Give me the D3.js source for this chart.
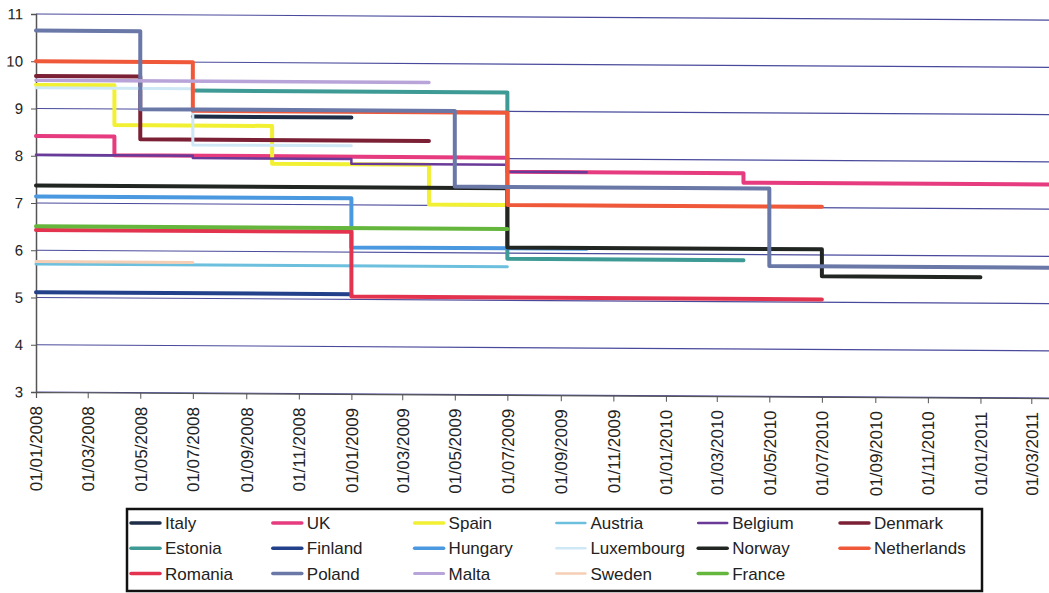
<!DOCTYPE html>
<html>
<head>
<meta charset="utf-8">
<script src="https://cdn.jsdelivr.net/npm/d3@7/dist/d3.min.js"></script>
<style>
  html, body { margin: 0; padding: 0; background: #fff; }
  svg { display: block; font-family: "Liberation Sans", Arial, sans-serif; }
</style>
</head>
<body>
<svg id="chart" width="1049" height="593"></svg>
<script>
// Rate series by country: each series is a step line; a value holds from its date
// until the next date, and the last entry marks where the series stops.
const countries = ["Italy", "UK", "Spain", "Austria", "Belgium", "Denmark",
                   "Estonia", "Finland", "Hungary", "Luxembourg", "Norway", "Netherlands",
                   "Romania", "Poland", "Malta", "Sweden", "France"];

const seriesDates = [
  ["2008-07-01", "2009-01-01"],                                            // Italy
  ["2008-01-01", "2008-04-01", "2009-07-01", "2010-04-01", "2011-04-01"],  // UK
  ["2008-01-01", "2008-04-01", "2008-10-01", "2009-04-01", "2009-07-01"],  // Spain
  ["2008-01-01", "2009-07-01"],                                            // Austria
  ["2008-01-01", "2008-07-01", "2009-01-01", "2009-07-01", "2009-10-01"],  // Belgium
  ["2008-01-01", "2008-05-01", "2009-04-01"],                              // Denmark
  ["2008-07-01", "2009-07-01", "2010-04-01"],                              // Estonia
  ["2008-01-01", "2009-01-01"],                                            // Finland
  ["2008-01-01", "2009-01-01", "2009-10-01"],                              // Hungary
  ["2008-01-01", "2008-07-01", "2009-01-01"],                              // Luxembourg
  ["2008-01-01", "2009-07-01", "2010-07-01", "2011-01-01"],                // Norway
  ["2008-01-01", "2008-07-01", "2009-07-01", "2010-07-01"],                // Netherlands
  ["2008-01-01", "2009-01-01", "2010-07-01"],                              // Romania
  ["2008-01-01", "2008-05-01", "2009-05-01", "2010-05-01", "2011-04-01"],  // Poland
  ["2008-01-01", "2009-04-01"],                                            // Malta
  ["2008-01-01", "2008-07-01"],                                            // Sweden
  ["2008-01-01", "2009-07-01"]                                             // France
];

const seriesValues = [
  [8.85, 8.85],                    // Italy
  [8.42, 8.02, 7.72, 7.52, 7.52],  // UK
  [9.5, 8.66, 7.86, 7.02, 7.02],   // Spain
  [5.71, 5.71],                    // Austria
  [8.02, 7.97, 7.87, 7.72, 7.72],  // Belgium
  [9.69, 8.36, 8.36],              // Denmark
  [9.4, 5.88, 5.88],               // Estonia
  [5.11, 5.11],                    // Finland
  [7.14, 6.1, 6.1],                // Hungary
  [9.44, 8.25, 8.25],              // Luxembourg
  [7.37, 6.12, 5.55, 5.55],        // Norway
  [10.0, 8.97, 7.02, 7.02],        // Netherlands
  [6.43, 5.06, 5.06],              // Romania
  [10.65, 9.0, 7.4, 5.76, 5.76],   // Poland
  [9.6, 9.6],                      // Malta
  [5.76, 5.76],                    // Sweden
  [6.51, 6.51]                     // France
];

const yTicks = [3, 4, 5, 6, 7, 8, 9, 10, 11];
const xDomain = ["2008-01-01", "2011-04-01"];

// Colour and stroke width for each country, in the same order as `countries`
const colors = ["#1e2d48", "#e63b7e", "#f2f032", "#6cc0de", "#6a3a98", "#7b2035",
                "#3d9a94", "#23418a", "#4a98e0", "#cfe8f5", "#222622", "#f0583a",
                "#e3334f", "#6a78a8", "#b8a4d8", "#f5cfb5", "#64b63c"];
const widths = [4, 4, 4, 3, 2.5, 4,
                4, 4, 4, 3, 4, 4,
                4, 4, 3.5, 3, 4];

const parse = d3.timeParse("%Y-%m-%d");
const fmt = d3.timeFormat("%d/%m/%Y");

const svg = d3.select("#chart");
const plotLeft = 36, plotTop = 14, plotBottom = 392;

const x = d3.scaleTime()
  .domain(xDomain.map(parse))
  .range([plotLeft, 1058]);
const y = d3.scaleLinear()
  .domain([3, 11])
  .range([plotBottom, plotTop]);

// The plot area leans slightly downward to the right
const skew = 0.006;
const plot = svg.append("g")
  .attr("transform", `matrix(1,${skew},0,1,0,${-skew * plotLeft})`);

// Horizontal gridlines
plot.append("g").selectAll("line")
  .data(yTicks)
  .join("line")
  .attr("x1", plotLeft).attr("x2", 1060)
  .attr("y1", d => y(d)).attr("y2", d => y(d))
  .attr("stroke", "#4a4a9c")
  .attr("stroke-width", 1.1);

// Y axis
const yAxis = plot.append("g")
  .attr("transform", `translate(${plotLeft},0)`)
  .call(d3.axisLeft(y).tickValues(yTicks).tickSize(5).tickPadding(8).tickFormat(d3.format("d")));
yAxis.select(".domain").attr("stroke", "#555").attr("stroke-width", 1.5);
yAxis.selectAll(".tick line").attr("stroke", "#555");
yAxis.selectAll("text")
  .attr("font-size", 15)
  .attr("fill", "#222")
  .attr("font-family", "Liberation Sans, Arial, sans-serif");

// X axis with rotated date labels
const xTicks = d3.timeMonth.every(2).range(parse("2008-01-01"), parse("2011-04-01"));
const xAxis = plot.append("g")
  .attr("transform", `translate(0,${plotBottom})`)
  .call(d3.axisBottom(x).tickValues(xTicks).tickSize(6).tickFormat(fmt));
xAxis.select(".domain").attr("stroke", "#555").attr("stroke-width", 1.2);
xAxis.selectAll(".tick line").attr("stroke", "#555");
xAxis.selectAll("text")
  .attr("font-size", 17)
  .attr("fill", "#222")
  .attr("font-family", "Liberation Sans, Arial, sans-serif")
  .attr("text-anchor", "end")
  .attr("transform", "rotate(-90)")
  .attr("x", -14)
  .attr("y", 0)
  .attr("dy", "0.35em");

// Step lines
const line = d3.line()
  .x(d => x(d.date))
  .y(d => y(d.value))
  .curve(d3.curveStepAfter);

const series = countries.map((name, i) => ({
  name,
  color: colors[i],
  width: widths[i],
  points: seriesDates[i].map((d, j) => ({ date: parse(d), value: seriesValues[i][j] }))
}));

plot.append("g")
  .selectAll("path")
  .data(series)
  .join("path")
  .attr("d", d => line(d.points))
  .attr("fill", "none")
  .attr("stroke", d => d.color)
  .attr("stroke-width", d => d.width)
  .attr("stroke-linejoin", "round")
  .attr("stroke-linecap", "round");

// Legend
const legend = svg.append("g");
legend.append("rect")
  .attr("x", 127).attr("y", 509)
  .attr("width", 855).attr("height", 82)
  .attr("fill", "#fff")
  .attr("stroke", "#111")
  .attr("stroke-width", 2.5);

const cols = 6, colW = 141.8, rowH = 25.3;
const items = legend.selectAll("g.item")
  .data(series)
  .join("g")
  .attr("class", "item")
  .attr("transform", (d, i) => `translate(${131 + (i % cols) * colW},${523 + Math.floor(i / cols) * rowH})`);
items.append("line")
  .attr("x1", 0).attr("x2", 29)
  .attr("stroke", d => d.color)
  .attr("stroke-width", d => Math.max(2.5, d.width - 0.5))
  .attr("stroke-linecap", "round");
items.append("text")
  .attr("x", 34)
  .attr("dy", "0.36em")
  .attr("font-size", 17)
  .attr("fill", "#222")
  .text(d => d.name);
</script>
</body>
</html>
